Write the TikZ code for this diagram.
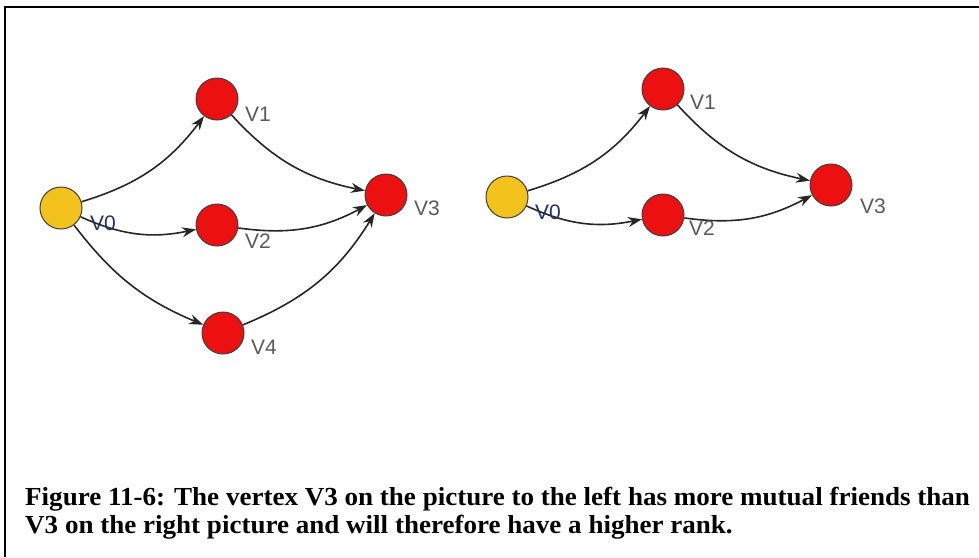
\documentclass[tikz,border=0pt]{standalone}
\usepackage{fontspec}
\setmainfont{Liberation Serif}
\newfontfamily\labelfont{Liberation Sans}
\usetikzlibrary{arrows.meta}
\definecolor{vred}{HTML}{EC1010}
\definecolor{vyellow}{HTML}{F4C21C}
\definecolor{vgray}{HTML}{5A5A5A}
\definecolor{vnavy}{HTML}{26306A}

\begin{document}
\begin{tikzpicture}[x=1pt,y=-1pt,
	lbl/.style={font=\labelfont\fontsize{21}{21}\selectfont,text=vgray,inner sep=0pt},
	arc/.style={line width=1.6pt,black!85,-{Stealth[length=14pt,width=10pt]},bend right=#1}]
	\useasboundingbox (0,0) rectangle (979,557);
	\draw [line width=2pt] (5,557) -- (5,7) -- (979,7);

	% left picture
	\begin{scope}[every node/.style={circle,draw=black!75,line width=1pt,minimum size=42pt,inner sep=0pt,fill=vred}]
	\node[fill=vyellow] (A0) at (61,208) {};
	\node (A1) at (217,99) {};
	\node (A2) at (217,225) {};
	\node (A3) at (386,195) {};
	\node (A4) at (223,333) {};
	\end{scope}
	\draw [arc=18] (A0) to (A1);
	\draw [arc=18] (A1) to (A3);
	\draw [arc=18] (A0) to (A2);
	\draw [arc=18] (A2) to (A3);
	\draw [arc=15] (A0) to (A4);
	\draw [arc=18] (A4) to (A3);
	\node[lbl,text=vnavy] (a0) at (103,223) {V0};
	\node[lbl] (a1) at (258,114) {V1};
	\node[lbl] (a2) at (258,241) {V2};
	\node[lbl] (a3) at (427,208) {V3};
	\node[lbl] (a4) at (264,347) {V4};

	% right picture
	\begin{scope}[every node/.style={circle,draw=black!75,line width=1pt,minimum size=42pt,inner sep=0pt,fill=vred}]
	\node[fill=vyellow] (B0) at (507,197) {};
	\node (B1) at (663,89) {};
	\node (B2) at (663,215) {};
	\node (B3) at (831,185) {};
	\end{scope}
	\draw [arc=18] (B0) to (B1);
	\draw [arc=18] (B1) to (B3);
	\draw [arc=18] (B0) to (B2);
	\draw [arc=18] (B2) to (B3);
	\node[lbl,text=vnavy] (b0) at (548,212) {V0};
	\node[lbl] (b1) at (703,102) {V1};
	\node[lbl] (b2) at (702,228) {V2};
	\node[lbl] (b3) at (873,206) {V3};

	% caption
	\node[anchor=base west,inner sep=0pt,xscale=1.04,font=\bfseries\fontsize{26}{26}\selectfont] (cap1) at (25,505)
		{Figure 11-6: The vertex V3 on the picture to the left has more mutual friends than};
	\node[anchor=base west,inner sep=0pt,xscale=1.04,font=\bfseries\fontsize{26}{26}\selectfont] (cap2) at (25,533)
		{V3 on the right picture and will therefore have a higher rank.};
\end{tikzpicture}
\end{document}
